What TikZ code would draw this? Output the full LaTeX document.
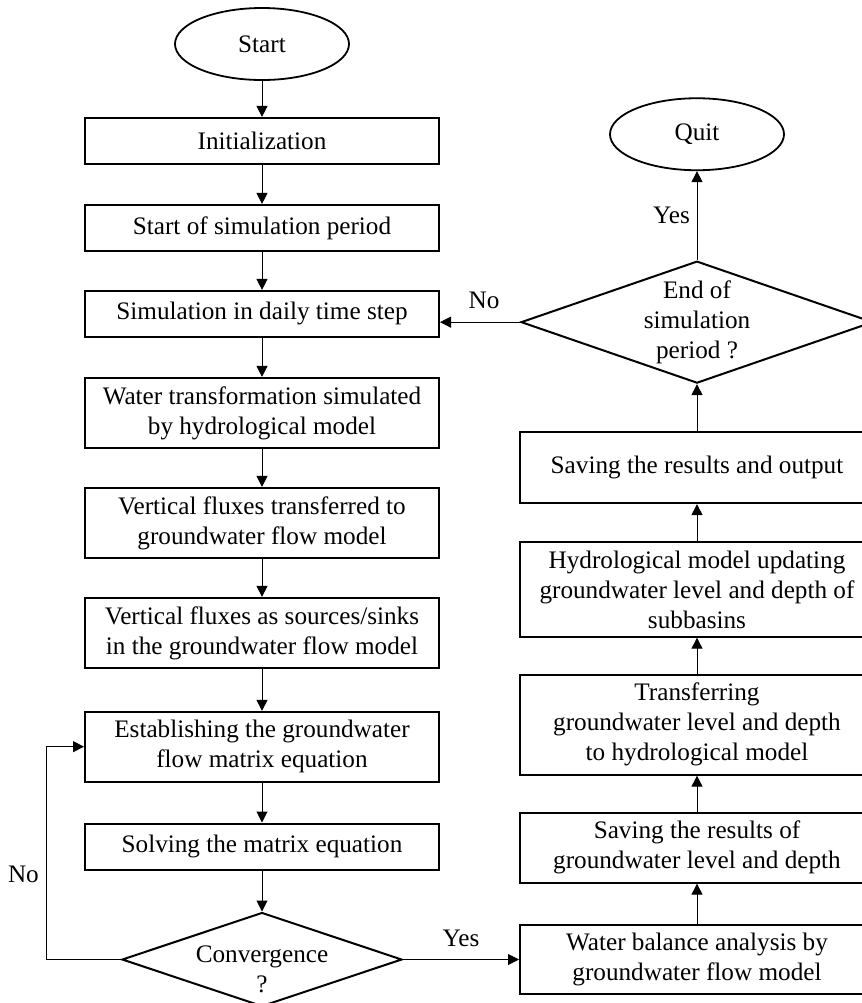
\documentclass[tikz,border=0pt]{standalone}
\usepackage{fontspec}
\setmainfont{Liberation Serif}
\usetikzlibrary{positioning,shapes.geometric,arrows.meta}

\begin{document}
\begin{tikzpicture}[
    node distance=20pt,
    box/.style={rectangle, draw, line width=1pt, minimum width=177pt, minimum height=23pt, inner xsep=3pt, inner ysep=4.2pt, align=center},
    term/.style={ellipse, draw, line width=0.9pt, minimum width=87pt, minimum height=36pt},
    decide/.style={diamond, draw, line width=1pt, inner sep=0pt},
    arrow/.style={-{Triangle[length=5.5pt,width=5.5pt]}, line width=0.5pt},
    every node/.style={font=\fontsize{12.6}{15}\selectfont}
]
\useasboundingbox (0,0) rectangle (431pt,-501.5pt);
% left column
\node[term] (start) at (131pt,-22pt) {Start};
\node[box, below=18pt of start] (init) {Initialization};
\node[box, below=19.5pt of init] (sos) {Start of simulation period};
\node[box, below=19pt of sos] (daily) {Simulation in daily time step};
\node[box, below=19.5pt of daily] (wt) {Water transformation simulated\\by hydrological model};
\node[box, below=19pt of wt] (vf1) {Vertical fluxes transferred to\\groundwater flow model};
\node[box, below=19pt of vf1] (vf2) {Vertical fluxes as sources/sinks\\in the groundwater flow model};
\node[box, below=21pt of vf2] (est) {Establishing the groundwater\\flow matrix equation};
\node[box, below=20pt of est] (solve) {Solving the matrix equation};
\node[decide, minimum width=140pt, minimum height=47pt, below=20.5pt of solve,
      label={[align=center, yshift=-5pt]center:Convergence\\?}] (conv) {};
% right column
\node[box, right=58pt of conv] (wb) {Water balance analysis by\\groundwater flow model};
\node[box, above=20pt of wb] (sgw) {Saving the results of\\groundwater level and depth};
\node[box, above=18pt of sgw] (trans) {Transferring\\groundwater level and depth\\to hydrological model};
\node[box, above=18pt of trans] (hyd) {Hydrological model updating\\groundwater level and depth of\\subbasins};
\node[box, minimum height=35.5pt, above=18.5pt of hyd] (sout) {Saving the results and output};
\node[decide, minimum width=176pt, minimum height=61pt, above=23.5pt of sout,
      label={[align=center]center:End of\\simulation\\period ?}] (endq) {};
\node[term, above=44.5pt of endq] (quit) {Quit};
% connectors
\draw[arrow] (start) -- (init);
\draw[arrow] (init) -- (sos);
\draw[arrow] (sos) -- (daily);
\draw[arrow] (daily) -- (wt);
\draw[arrow] (wt) -- (vf1);
\draw[arrow] (vf1) -- (vf2);
\draw[arrow] (vf2) -- (est);
\draw[arrow] (est) -- (solve);
\draw[arrow] (solve) -- (conv);
\draw[arrow] (conv.west) -- ++(-37.5pt,0) |- node[left, pos=0.2] {No} (est.west);
\draw[arrow] (conv.east) -- node[above, yshift=3pt] {Yes} (wb.west);
\draw[arrow] (wb) -- (sgw);
\draw[arrow] (sgw) -- (trans);
\draw[arrow] (trans) -- (hyd);
\draw[arrow] (hyd) -- (sout);
\draw[arrow] (sout) -- (endq);
\draw[arrow] (endq.west) -- node[above, pos=0.45, yshift=3pt] {No} (endq.west -| daily.east);
\draw[arrow] (endq) -- node[left] {Yes} (quit);
\end{tikzpicture}
\end{document}
